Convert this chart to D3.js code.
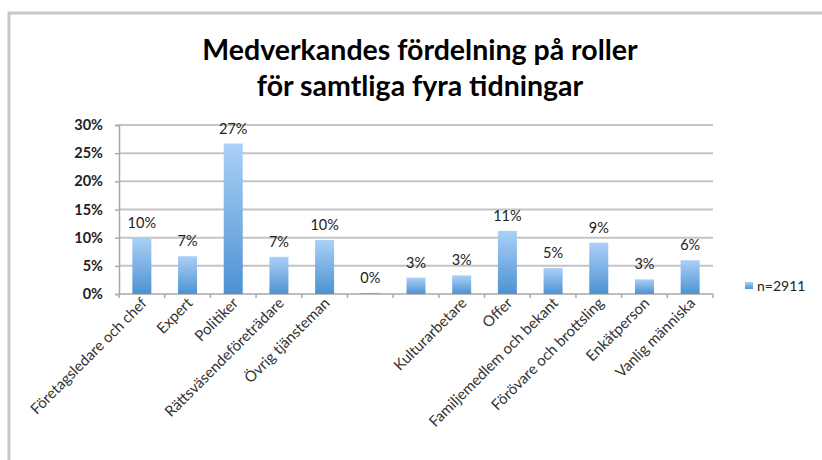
<!doctype html>
<html>
  <head>
    <script src="https://cdnjs.cloudflare.com/ajax/libs/d3/7.8.5/d3.min.js"></script>
  <style>
    body { margin: 0; background: #fff; }
    text { font-family: Lato, "Open Sans", sans-serif; }
  </style>
  </head>
  <body>
    <svg id="chart" width="822" height="460"></svg>
    <script>
      var categories = ["Företagsledare och chef", "Expert", "Politiker", "Rättsväsendeföreträdare",
        "Övrig tjänsteman", "", "", "Kulturarbetare", "Offer", "Familjemedlem och bekant",
        "Förövare och brottsling", "Enkätperson", "Vanlig människa"];
      var values = [10.0, 6.7, 26.7, 6.6, 9.6, 0.2, 2.9, 3.3, 11.2, 4.6, 9.1, 2.6, 6.0];
      var yTicks = [0, 5, 10, 15, 20, 25, 30];
      var titleLines = ["Medverkandes fördelning på roller", "för samtliga fyra tidningar"];
      var seriesName = "n=2911";

      var svg = d3.select("#chart");
      // note: "top" is reserved on window, so use plot* names
      var plotL = 119, plotR = 713, plotT = 125, plotB = 294;

      // frame
      svg.append("path")
        .attr("d", "M9,460V13H822")
        .attr("fill", "none")
        .attr("stroke", "#c8c8c8")
        .attr("stroke-width", 3);

      var defs = svg.append("defs");
      var grad = defs.append("linearGradient").attr("id", "barGrad")
        .attr("x1", 0).attr("y1", 0).attr("x2", 0).attr("y2", 1);
      grad.append("stop").attr("offset", "0%").attr("stop-color", "#abd0f6");
      grad.append("stop").attr("offset", "100%").attr("stop-color", "#4d92d2");

      var xScale = d3.scaleBand().domain(d3.range(categories.length)).range([plotL, plotR]);
      var yScale = d3.scaleLinear().domain([0, 30]).range([plotB, plotT]);

      // title
      svg.selectAll("text.title")
        .data(titleLines)
        .enter()
        .append("text")
          .attr("class", "title")
          .attr("x", 420)
          .attr("y", (d, i) => 60 + i * 36)
          .attr("text-anchor", "middle")
          .style("font-size", "28.5px")
          .style("font-weight", "bold")
          .text(d => d);

      // gridlines
      svg.selectAll("line.grid")
        .data(yTicks.slice(1))
        .enter()
        .append("line")
          .attr("class", "grid")
          .attr("x1", plotL).attr("x2", plotR)
          .attr("y1", d => yScale(d)).attr("y2", d => yScale(d))
          .attr("stroke", "#c4c4c4")
          .attr("stroke-width", 2);

      var yAxis = d3.axisLeft(yScale)
        .tickValues(yTicks)
        .tickSize(4)
        .tickPadding(12)
        .tickFormat(d => d + "%");
      var yG = svg.append("g").attr("transform", "translate(" + plotL + ",0)").call(yAxis);
      yG.selectAll("path, line").attr("stroke", "#a8a8a8").attr("stroke-width", 1.5);
      yG.selectAll("text").style("font-size", "14.5px").style("font-weight", "bold")
        .attr("fill", "#222");

      // x axis line and ticks at category boundaries
      svg.append("line")
        .attr("x1", plotL).attr("x2", plotR)
        .attr("y1", plotB).attr("y2", plotB)
        .attr("stroke", "#a8a8a8").attr("stroke-width", 1.5);
      svg.selectAll("line.xtick")
        .data(d3.range(categories.length + 1))
        .enter()
        .append("line")
          .attr("class", "xtick")
          .attr("x1", d => plotL + d * xScale.step())
          .attr("x2", d => plotL + d * xScale.step())
          .attr("y1", plotB).attr("y2", plotB + 4)
          .attr("stroke", "#a8a8a8").attr("stroke-width", 1.5);

      var barW = 19;
      svg.selectAll("rect.bar")
        .data(values)
        .enter()
        .append("rect")
          .attr("class", "bar")
          .attr("x", (d, i) => xScale(i) + xScale.bandwidth() / 2 - barW / 2)
          .attr("y", d => yScale(d))
          .attr("width", barW)
          .attr("height", d => plotB - yScale(d))
          .attr("fill", "url(#barGrad)");

      svg.selectAll("text.val")
        .data(values)
        .enter()
        .append("text")
          .attr("class", "val")
          .attr("x", (d, i) => xScale(i) + xScale.bandwidth() / 2)
          .attr("y", d => yScale(d) - 10)
          .attr("text-anchor", "middle")
          .style("font-size", "14.5px")
          .attr("fill", "#222")
          .text(d => Math.round(d) + "%");

      svg.selectAll("text.cat")
        .data(categories)
        .enter()
        .append("text")
          .attr("class", "cat")
          .attr("text-anchor", "end")
          .attr("transform", (d, i) => "translate(" + (xScale(i) + xScale.bandwidth() / 2 + 6) + "," + (plotB + 10) + ") rotate(-45)")
          .style("font-size", "15px")
          .attr("fill", "#333")
          .text(d => d);

      // legend
      svg.append("rect")
        .attr("x", 745).attr("y", 282)
        .attr("width", 8).attr("height", 7)
        .attr("fill", "url(#barGrad)");
      svg.append("text")
        .attr("x", 757).attr("y", 291)
        .style("font-size", "14px")
        .attr("fill", "#222")
        .text(seriesName);
    </script>
  </body>
</html>
